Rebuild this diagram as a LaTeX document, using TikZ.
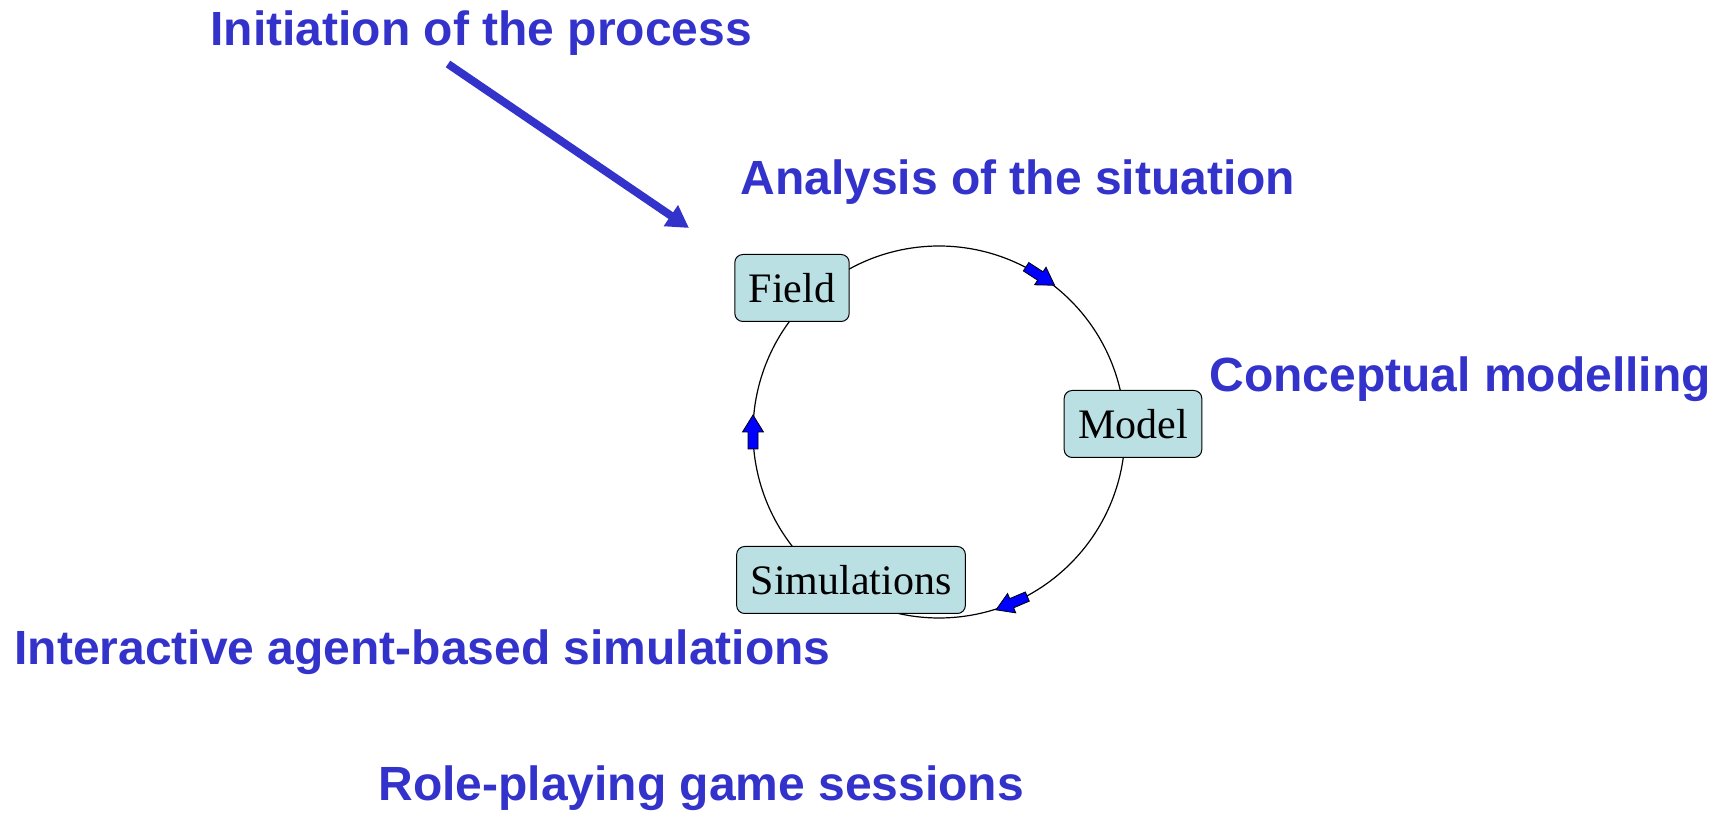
\documentclass[tikz,border=0pt]{standalone}
\usepackage{fontspec}
\setmainfont{Liberation Serif}
\setsansfont{Liberation Sans}
\usetikzlibrary{arrows.meta,backgrounds,calc}
\definecolor{labelblue}{HTML}{3333CC}
\definecolor{boxteal}{HTML}{BAE0E3}
\definecolor{tipblue}{HTML}{0000FF}
\tikzset{
  stage/.style={draw=black,line width=0.5pt,fill=boxteal,rounded corners=4pt,
    minimum height=33.5pt,inner xsep=7pt,inner ysep=0pt,font=\fontsize{21}{25}\selectfont},
  phase/.style={text=labelblue,font=\sffamily\bfseries\fontsize{24}{28}\selectfont,
    anchor=base west,inner sep=0pt},
  ring/.style={draw=black,line width=0.6pt},
  kickoff/.style={draw=labelblue,line width=4pt,-{Triangle[length=11pt,width=12pt]}},
  cycletip/.pic={
    \filldraw[fill=tipblue,draw=black,line width=0.4pt]
      (17,0) -- (0,10.5) -- (0,5) -- (-17,5) -- (-17,-5) -- (0,-5) -- (0,-10.5) -- cycle;
  }
}

\begin{document}
\begin{tikzpicture}[x=0.5pt,y=0.5pt]
\useasboundingbox (0,0) rectangle (1719,814);
% phase labels
\node[phase] (init) at (210,768) {Initiation of the process};
\node[phase] (analysis) at (740,619) {Analysis of the situation};
\node[phase] (concept) at (1209,422) {Conceptual modelling};
\node[phase] (interact) at (14,149) {Interactive agent-based simulations};
\node[phase] (roleplay) at (378,13) {Role-playing game sessions};
% the cycle
\coordinate (hub) at (939,382);
\node[stage] (field) at (792,526) {Field};
\node[stage] (model) at (1133,390) {Model};
\node[stage] (sims) at (851,234) {Simulations};
\begin{scope}[on background layer]
  \draw[ring] ($(hub)+(135.6:186)$) arc[start angle=135.6,end angle=2.4,radius=186];
  \draw[ring] ($(hub)+(2.4:186)$) arc[start angle=2.4,end angle=-120.7,radius=186];
  \draw[ring] ($(hub)+(-120.7:186)$) arc[start angle=-120.7,end angle=-224.4,radius=186];
\end{scope}
\pic[rotate=-33] at ($(hub)+(57:186)$) {cycletip};
\pic[rotate=-157] at ($(hub)+(-67:186)$) {cycletip};
\pic[rotate=90] at ($(hub)+(180:186)$) {cycletip};
% where it starts
\coordinate (kick) at (448,750);
\coordinate (entry) at (689,586);
\draw[kickoff] (kick) -- (entry);
\end{tikzpicture}
\end{document}
